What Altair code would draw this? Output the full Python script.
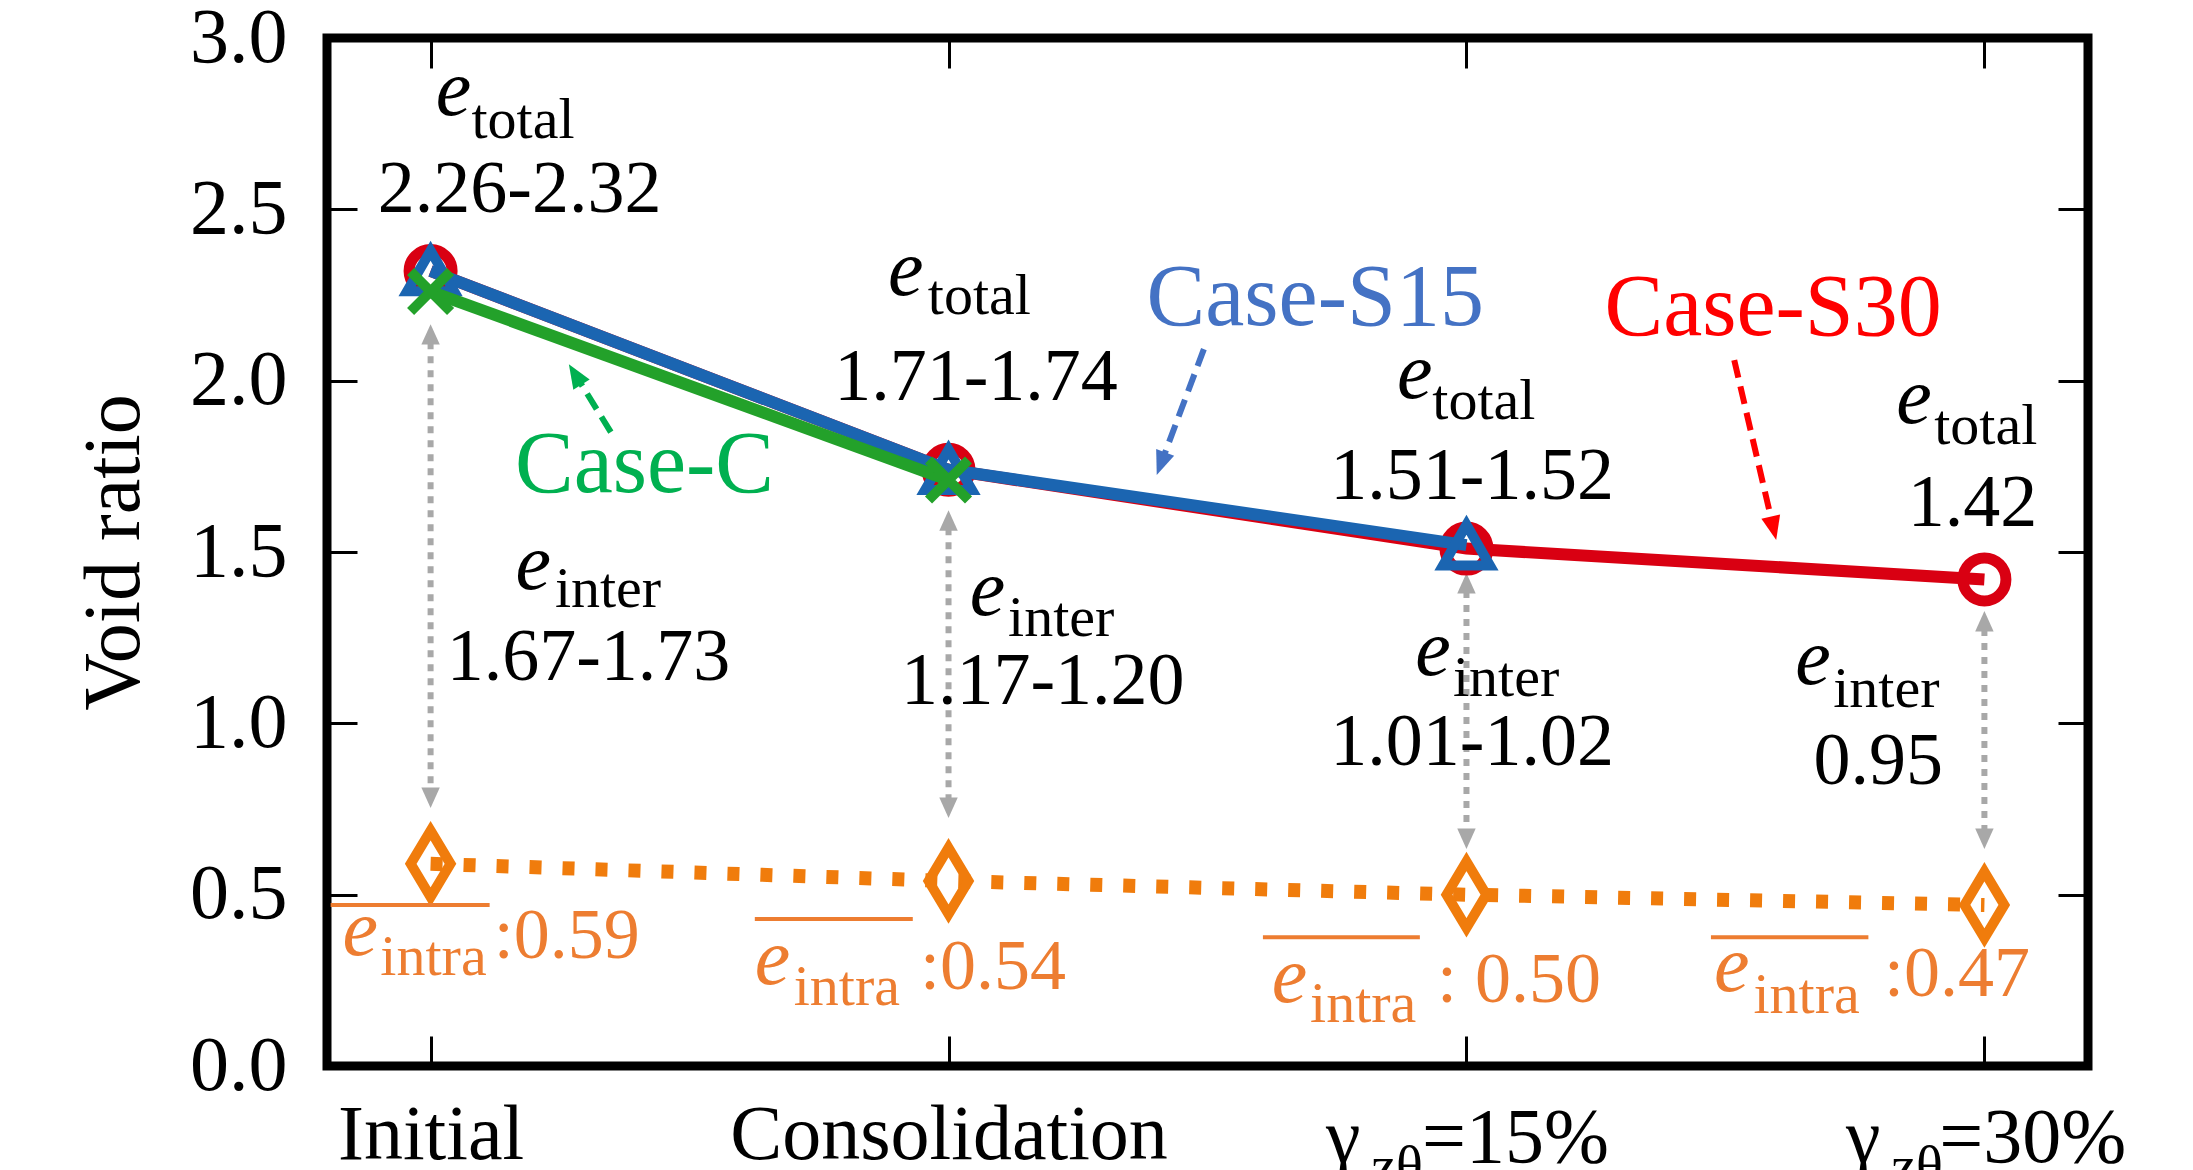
import math
import altair as alt
import pandas as pd

# ---------------- data ----------------
stages = [0, 1, 2, 3]
s30 = [2.32, 1.74, 1.51, 1.42]          # Case-S30 (red circles)
s15 = [2.32, 1.74, 1.52]                # Case-S15 (blue triangles)
case_c = [2.26, 1.71]                   # Case-C (green crosses)
e_intra = [0.59, 0.54, 0.50, 0.47]      # mean intra void ratio (orange diamonds)

axis_labels = ["Initial", "Consolidation", "", ""]
gamma_rest = ["=15%", "=30%"]
gamma_x = [1.729, 2.733]
gamma_sub_x = [1.816, 2.820]
gamma_rest_x = [1.914, 2.913]
gamma_y = -0.280
gamma_sub_y = -0.347

total_vals = ["2.26-2.32", "1.71-1.74", "1.51-1.52", "1.42"]
total_e_x = [0.010, 0.883, 1.866, 2.830]
total_e_y = [2.775, 2.250, 1.949, 1.876]
total_sub_x = [0.079, 0.960, 1.934, 2.903]
total_sub_y = [2.708, 2.195, 1.888, 1.815]
total_val_x = [0.172, 1.053, 2.011, 2.977]
total_val_y = [2.492, 1.944, 1.655, 1.576]

inter_vals = ["1.67-1.73", "1.17-1.20", "1.01-1.02", "0.95"]
inter_e_x = [0.164, 1.041, 1.901, 2.635]
inter_e_y = [1.392, 1.316, 1.141, 1.115]
inter_sub_x = [0.240, 1.115, 1.974, 2.708]
inter_sub_y = [1.339, 1.255, 1.080, 1.048]
inter_val_x = [0.305, 1.182, 2.011, 2.795]
inter_val_y = [1.126, 1.056, 0.878, 0.823]

intra_vals = [":0.59", ":0.54", ": 0.50", ":0.47"]
intra_bar_x1 = [-0.193, 0.626, 1.607, 2.472]
intra_bar_x2 = [0.114, 0.931, 1.910, 2.776]
intra_bar_y = [0.470, 0.429, 0.376, 0.376]
intra_e_x = [-0.170, 0.626, 1.624, 2.478]
intra_e_y = [0.324, 0.239, 0.187, 0.219]
intra_sub_x = [-0.097, 0.701, 1.698, 2.554]
intra_sub_y = [0.266, 0.178, 0.128, 0.155]
intra_val_x = [0.122, 0.945, 1.943, 2.806]
intra_val_y = [0.315, 0.225, 0.187, 0.204]

case_names = ["Case-C", "Case-S15", "Case-S30"]
case_x = [0.413, 1.708, 2.592]
case_y = [1.675, 2.162, 2.133]
case_tail_x = [0.348, 1.493, 2.517]
case_tail_y = [1.850, 2.092, 2.060]
case_tip_x = [0.267, 1.402, 2.598]
case_tip_y = [2.048, 1.725, 1.535]

gray_top = [2.165, 1.622, 1.439, 1.328]
gray_bottom = [0.753, 0.724, 0.633, 0.633]

# ---------------- style ----------------
FONT = "Liberation Serif"
RED, BLUE, GREEN, ORANGE = "#d90012", "#1b65b1", "#23a12a", "#f07c0c"
RED_T, BLUE_T, GREEN_T, ORANGE_T = "#ff0000", "#4472c4", "#00b050", "#ed7d31"
GRAY = "#a8a8a8"
case_text_colors = [GREEN_T, BLUE_T, RED_T]
case_arrow_colors = [GREEN_T, BLUE_T, RED_T]

W, H = 1761, 1028
XDOM, YDOM = [-0.2, 3.2], [0.0, 3.0]
PXX = W / (XDOM[1] - XDOM[0])
PXY = H / (YDOM[1] - YDOM[0])

XS = alt.Scale(domain=XDOM, nice=False, zero=False)
YS = alt.Scale(domain=YDOM, nice=False, zero=False)

label_expr = ("datum.value == 0 ? '%s' : datum.value == 1 ? '%s' : ''"
              % (axis_labels[0], axis_labels[1]))
AX_B = alt.Axis(orient="bottom", offset=-30, tickSize=30, tickWidth=3, tickColor="black",
                domain=False, grid=False, values=stages, labelExpr=label_expr,
                labelFont=FONT, labelFontSize=78, labelColor="black",
                labelBaseline="alphabetic", labelPadding=92, labelFlush=False,
                labelOverlap=False, labelLimit=2000, title=None)
AX_L = alt.Axis(orient="left", offset=-30, tickSize=30, tickWidth=3, tickColor="black",
                domain=False, grid=False, values=[0, 0.5, 1.0, 1.5, 2.0, 2.5, 3.0],
                format=".1f", labelFont=FONT, labelFontSize=78, labelColor="black",
                labelPadding=40, labelFlush=False, labelOverlap=False, labelLimit=2000,
                title="Void ratio", titleFont=FONT, titleFontSize=80,
                titleFontWeight="normal", titleColor="black", titlePadding=34,
                titleLimit=2000)
AX_T = alt.Axis(orient="top", offset=-30, tickSize=30, tickWidth=3, tickColor="black",
                domain=False, grid=False, values=stages, labels=False, title=None)
AX_R = alt.Axis(orient="right", offset=-30, tickSize=30, tickWidth=3, tickColor="black",
                domain=False, grid=False, values=[0.5, 1.0, 1.5, 2.0, 2.5],
                labels=False, title=None)


def X(f="x"):
    return alt.X(f"{f}:Q", scale=XS, axis=AX_B)


def Y(f="y"):
    return alt.Y(f"{f}:Q", scale=YS, axis=AX_L)


def series(xs, ys):
    return pd.DataFrame({"x": xs, "y": ys})


def text_layer(xs, ys, texts, size, color="black", style="normal", align="left"):
    df = pd.DataFrame({"x": xs, "y": ys, "t": texts})
    return alt.Chart(df).mark_text(font=FONT, fontSize=size, fontStyle=style, align=align,
                                   baseline="alphabetic", color=color, limit=2000).encode(
        x=X(), y=Y(), text="t:N")


layers = []

# gray double arrows (e_inter spans)
HEAD_G = 18
gdf = pd.DataFrame({"x": stages,
                    "ya": [t - HEAD_G / PXY for t in gray_top],
                    "yb": [b + HEAD_G / PXY for b in gray_bottom]})
layers.append(alt.Chart(gdf).mark_rule(color=GRAY, strokeWidth=6, strokeDash=[7, 7]).encode(
    x=X(), y=Y("ya"), y2="yb"))
ghead = pd.DataFrame({"x": stages + stages, "y": gray_top + gray_bottom,
                      "ang": [0] * 4 + [180] * 4})
layers.append(alt.Chart(ghead).mark_point(shape="M0,0L0.9,2L-0.9,2Z", filled=True, size=420,
                                          color=GRAY, opacity=1, strokeWidth=0).encode(
    x=X(), y=Y(), angle=alt.Angle("ang:Q", scale=None)))

# orange intra series
layers.append(alt.Chart(series(stages, e_intra)).mark_line(
    color=ORANGE, strokeWidth=14, strokeDash=[12, 21], strokeCap="butt").encode(x=X(), y=Y()))
layers.append(alt.Chart(series(stages, e_intra)).mark_point(
    shape="M0,-1L0.6,0L0,1L-0.6,0Z", size=4400, filled=False, strokeWidth=10,
    color=ORANGE, opacity=1).encode(x=X(), y=Y()))

# red S30
layers.append(alt.Chart(series(stages, s30)).mark_line(color=RED, strokeWidth=12).encode(
    x=X(), y=Y()))
layers.append(alt.Chart(series(stages, s30)).mark_point(
    shape="circle", size=1850, filled=False, strokeWidth=11, color=RED, opacity=1).encode(
    x=X(), y=Y()))
# blue S15
layers.append(alt.Chart(series(stages[:3], s15)).mark_line(color=BLUE, strokeWidth=12).encode(
    x=X(), y=Y()))
layers.append(alt.Chart(series(stages[:3], s15)).mark_point(
    shape="triangle-up", size=2200, filled=False, strokeWidth=10, color=BLUE, opacity=1).encode(
    x=X(), y=Y()))
# green C
layers.append(alt.Chart(series(stages[:2], case_c)).mark_line(color=GREEN, strokeWidth=12).encode(
    x=X(), y=Y()))
layers.append(alt.Chart(series(stages[:2], case_c)).mark_point(
    shape="M-1,-1L1,1M-1,1L1,-1", size=1600, filled=False, strokeWidth=10, color=GREEN,
    opacity=1, strokeCap="butt").encode(x=X(), y=Y()))

# case label arrows
HEAD_C = 20
rows, heads = [], []
for tx, ty, px, py, c in zip(case_tail_x, case_tail_y, case_tip_x, case_tip_y, case_arrow_colors):
    dxp = (px - tx) * PXX
    dyp = -(py - ty) * PXY
    L = math.hypot(dxp, dyp)
    ux, uy = dxp / L, dyp / L
    ang = math.degrees(math.atan2(ux, -uy)) % 360
    rows.append({"x": tx, "y": ty, "x2": px - HEAD_C * ux / PXX, "y2": py + HEAD_C * uy / PXY, "c": c})
    heads.append({"x": px, "y": py, "ang": ang, "c": c})
layers.append(alt.Chart(pd.DataFrame(rows)).mark_rule(strokeWidth=6, strokeDash=[18, 9]).encode(
    x=X(), y=Y(), x2="x2:Q", y2="y2:Q", color=alt.Color("c:N", scale=None)))
layers.append(alt.Chart(pd.DataFrame(heads)).mark_point(
    shape="M0,0L0.8,2L-0.8,2Z", filled=True, size=576, opacity=1, strokeWidth=0).encode(
    x=X(), y=Y(), angle=alt.Angle("ang:Q", scale=None), color=alt.Color("c:N", scale=None)))

# e_total annotations
layers.append(text_layer(total_e_x, total_e_y, ["e"] * 4, 80, style="italic"))
layers.append(text_layer(total_sub_x, total_sub_y, ["total"] * 4, 58))
layers.append(text_layer(total_val_x, total_val_y, total_vals, 74, align="center"))
# e_inter annotations
layers.append(text_layer(inter_e_x, inter_e_y, ["e"] * 4, 80, style="italic"))
layers.append(text_layer(inter_sub_x, inter_sub_y, ["inter"] * 4, 58))
layers.append(text_layer(inter_val_x, inter_val_y, inter_vals, 74, align="center"))
# e_intra annotations
bar = pd.DataFrame({"x": intra_bar_x1, "x2": intra_bar_x2, "y": intra_bar_y})
layers.append(alt.Chart(bar).mark_rule(color=ORANGE_T, strokeWidth=4).encode(
    x=X(), x2="x2:Q", y=Y()))
layers.append(text_layer(intra_e_x, intra_e_y, ["e"] * 4, 80, color=ORANGE_T, style="italic"))
layers.append(text_layer(intra_sub_x, intra_sub_y, ["intra"] * 4, 58, color=ORANGE_T))
layers.append(text_layer(intra_val_x, intra_val_y, intra_vals, 72, color=ORANGE_T))
# case names
cdf = pd.DataFrame({"x": case_x, "y": case_y, "t": case_names, "c": case_text_colors})
layers.append(alt.Chart(cdf).mark_text(font=FONT, fontSize=88, align="center",
                                       baseline="alphabetic").encode(
    x=X(), y=Y(), text="t:N", color=alt.Color("c:N", scale=None)))
# gamma tick labels
layers.append(text_layer(gamma_x, [gamma_y] * 2, ["γ"] * 2, 78))
layers.append(text_layer(gamma_sub_x, [gamma_sub_y] * 2, ["zθ"] * 2, 56))
layers.append(text_layer(gamma_rest_x, [gamma_y] * 2, gamma_rest, 78))

inner = alt.layer(*layers)

tick_layer = alt.Chart(series(stages, e_intra)).mark_point(opacity=0).encode(
    x=alt.X("x:Q", scale=XS, axis=AX_T), y=alt.Y("y:Q", scale=YS, axis=AX_R))

chart = alt.layer(inner, tick_layer).resolve_axis(x="independent", y="independent").properties(
    width=W, height=H,
    autosize=alt.AutoSizeParams(type="none"),
    padding={"left": 319, "top": 30, "right": 97, "bottom": 140},
    background="white",
).configure_view(stroke="black", strokeWidth=9)

chart.save("out.html", embed_options={"renderer": "svg", "actions": False})
